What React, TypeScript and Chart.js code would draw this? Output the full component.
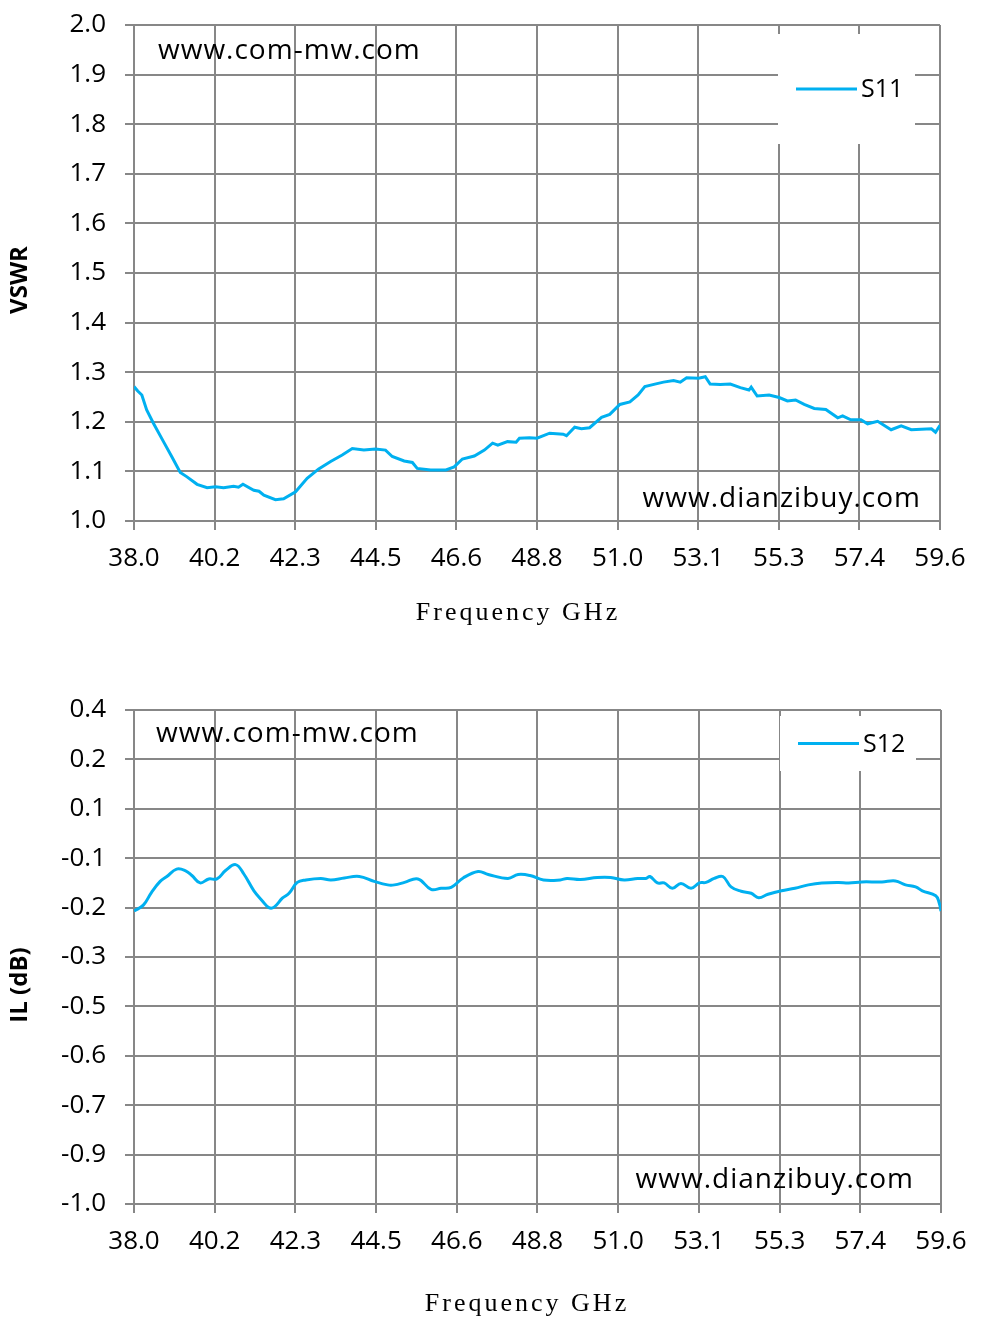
import { useEffect, useRef } from 'react';
import { Chart, registerables } from 'chart.js';

Chart.register(...registerables);

// x axis (GHz)
const X_MIN = 38.0;
const X_MAX = 59.6;
const X_STEP = 2.16;
const X_TICK_LABELS = ['38.0', '40.2', '42.3', '44.5', '46.6', '48.8', '51.0', '53.1', '55.3', '57.4', '59.6'];

// top chart: VSWR
const VSWR_TICK_LABELS = ['1.0', '1.1', '1.2', '1.3', '1.4', '1.5', '1.6', '1.7', '1.8', '1.9', '2.0'];
const S11_FREQ = [
  38.0, 38.1, 38.21, 38.34, 38.52, 38.79, 39.01, 39.24, 39.42, 39.69, 39.96, 40.18, 40.4, 40.67, 40.8,
  40.92, 41.21, 41.35, 41.48, 41.79, 42.01, 42.33, 42.64, 42.95, 43.27, 43.58, 43.85, 44.16, 44.47,
  44.74, 44.92, 45.24, 45.46, 45.59, 45.95, 46.36, 46.58, 46.8, 47.12, 47.39, 47.61, 47.75, 48.01,
  48.24, 48.33, 48.6, 48.8, 49.14, 49.5, 49.59, 49.81, 49.99, 50.21, 50.53, 50.75, 51.02, 51.29,
  51.51, 51.69, 51.96, 52.19, 52.46, 52.64, 52.81, 53.13, 53.31, 53.44, 53.71, 53.98, 54.25, 54.48,
  54.54, 54.7, 55.02, 55.29, 55.51, 55.73, 55.96, 56.23, 56.54, 56.86, 56.99, 57.21, 57.48, 57.66,
  57.93, 58.29, 58.56, 58.83, 59.1, 59.37, 59.48, 59.6,
];
const S11_VSWR = [
  1.271, 1.262, 1.254, 1.224, 1.197, 1.16, 1.13, 1.098, 1.089, 1.074, 1.067, 1.069, 1.067, 1.07, 1.068,
  1.074, 1.062, 1.06, 1.052, 1.043, 1.045, 1.059, 1.086, 1.105, 1.12, 1.133, 1.146, 1.143, 1.145,
  1.143, 1.13, 1.121, 1.118, 1.106, 1.103, 1.103, 1.109, 1.125, 1.131, 1.143, 1.157, 1.153, 1.16,
  1.159, 1.167, 1.168, 1.167, 1.177, 1.175, 1.172, 1.189, 1.186, 1.188, 1.209, 1.215, 1.235, 1.24,
  1.254, 1.271, 1.276, 1.28, 1.283, 1.28, 1.289, 1.288, 1.291, 1.276, 1.275, 1.276, 1.269, 1.264,
  1.27, 1.252, 1.254, 1.249, 1.242, 1.244, 1.235, 1.227, 1.225, 1.208, 1.212, 1.204, 1.204, 1.196,
  1.201, 1.184, 1.192, 1.184, 1.185, 1.186, 1.179, 1.193,
];

// bottom chart: insertion loss; the axis labels are not evenly spaced in value
const IL_TICK_LABELS = [-1.0, -0.9, -0.7, -0.6, -0.5, -0.3, -0.2, -0.1, 0.1, 0.2, 0.4];
const S12_FREQ = [
  38.0, 38.25, 38.47, 38.7, 38.88, 39.14, 39.37, 39.55, 39.77, 40.0, 40.22, 40.45, 40.72, 40.94, 41.21,
  41.43, 41.61, 41.75, 41.97, 42.15, 42.37, 42.6, 43.0, 43.27, 43.63, 44.03, 44.43, 44.79, 44.97,
  45.24, 45.6, 45.95, 46.22, 46.49, 46.81, 47.21, 47.48, 48.01, 48.28, 48.6, 48.96, 49.41, 49.59,
  49.95, 50.4, 50.76, 51.12, 51.48, 51.7, 51.81, 52.01, 52.19, 52.41, 52.64, 52.91, 53.13, 53.31,
  53.53, 53.76, 53.98, 54.25, 54.52, 54.72, 54.97, 55.33, 55.69, 56.05, 56.41, 56.86, 57.13, 57.48,
  58.02, 58.38, 58.65, 58.92, 59.1, 59.46, 59.55, 59.6,
];
const S12_IL = [
  -0.207, -0.195, -0.169, -0.147, -0.137, -0.122, -0.125, -0.135, -0.15, -0.142, -0.142, -0.125, -0.113,
  -0.132, -0.166, -0.186, -0.2, -0.199, -0.181, -0.171, -0.149, -0.144, -0.141, -0.144, -0.14, -0.137,
  -0.147, -0.154, -0.154, -0.149, -0.142, -0.163, -0.161, -0.159, -0.14, -0.127, -0.133, -0.141,
  -0.133, -0.135, -0.144, -0.144, -0.141, -0.143, -0.139, -0.139, -0.144, -0.141, -0.141, -0.137,
  -0.15, -0.15, -0.161, -0.151, -0.161, -0.15, -0.149, -0.141, -0.137, -0.158, -0.167, -0.171, -0.18,
  -0.173, -0.166, -0.161, -0.154, -0.15, -0.149, -0.15, -0.148, -0.148, -0.146, -0.154, -0.158,
  -0.166, -0.176, -0.19, -0.207,
];

const LINE_COLOR = '#00B0F0';
const GRID_COLOR = '#878787';
const TICK_FONT = { family: "'Open Sans', sans-serif", size: 26 };

// map a dB value onto the label slot axis (0..10)
function ilToSlot(v: number) {
  for (let i = 0; i < IL_TICK_LABELS.length - 1; i++) {
    const a = IL_TICK_LABELS[i];
    const b = IL_TICK_LABELS[i + 1];
    if (v >= a && v <= b) return i + (v - a) / (b - a);
  }
  return v < IL_TICK_LABELS[0] ? 0 : IL_TICK_LABELS.length - 1;
}

const overlayPlugin = {
  id: 'overlay',
  afterDraw(chart: any, _args: any, o: any) {
    const { ctx, chartArea: a } = chart;
    ctx.save();

    // legend box (white, sits over the grid)
    const lx = a.right - o.legend.dxRight;
    const ly = a.top + o.legend.dyTop;
    ctx.fillStyle = '#fff';
    ctx.fillRect(lx, ly, o.legend.w, o.legend.h);
    const my = ly + o.legend.h / 2;
    ctx.strokeStyle = LINE_COLOR;
    ctx.lineWidth = 3;
    ctx.beginPath();
    ctx.moveTo(lx + 18, my);
    ctx.lineTo(lx + 79, my);
    ctx.stroke();
    ctx.fillStyle = '#000';
    ctx.font = "25px 'Open Sans', sans-serif";
    ctx.textAlign = 'left';
    ctx.textBaseline = 'middle';
    ctx.fillText(o.legend.text, lx + 83, my + 1);

    // watermarks
    ctx.font = "28px 'Open Sans', sans-serif";
    (ctx as any).letterSpacing = '1px';
    ctx.textAlign = 'left';
    ctx.fillText('www.com-mw.com', a.left + o.wm1.dx, a.top + o.wm1.dy);
    ctx.textAlign = 'right';
    ctx.fillText('www.dianzibuy.com', a.right - o.wm2.dx, a.bottom - o.wm2.dy);

    // x axis title
    ctx.font = "26px 'Liberation Serif', serif";
    (ctx as any).letterSpacing = '3px';
    ctx.textAlign = 'center';
    ctx.fillText('Frequency GHz', o.xTitle.x, a.bottom + o.xTitle.dy);

    // y axis title
    (ctx as any).letterSpacing = '0px';
    ctx.font = "bold 24px 'Open Sans', sans-serif";
    ctx.translate(o.yTitle.x, (a.top + a.bottom) / 2 + o.yTitle.dy);
    ctx.rotate(-Math.PI / 2);
    ctx.fillText(o.yTitle.text, 0, 0);
    ctx.restore();
  },
};

function xScale(height: number) {
  return {
    type: 'linear' as const,
    min: X_MIN,
    max: X_MAX,
    afterFit: (s: any) => {
      s.height = height;
      s.paddingLeft = 0;
      s.paddingRight = 0;
    },
    ticks: {
      stepSize: X_STEP,
      color: '#000',
      font: TICK_FONT,
      padding: 13,
      maxRotation: 0,
      autoSkip: false,
      callback: (_v: any, i: number) => X_TICK_LABELS[i],
    },
    grid: { color: GRID_COLOR, lineWidth: 2, tickLength: 9, tickColor: GRID_COLOR },
    border: { color: GRID_COLOR, width: 2 },
  };
}

function yScaleBase() {
  return {
    type: 'linear' as const,
    afterFit: (s: any) => {
      s.width = 134;
      s.paddingTop = 0;
      s.paddingBottom = 0;
    },
    grid: { color: GRID_COLOR, lineWidth: 2, tickLength: 9, tickColor: GRID_COLOR },
    border: { color: GRID_COLOR, width: 2 },
  };
}

function VswrChart() {
  const canvasRef = useRef<HTMLCanvasElement>(null);
  const chartRef = useRef<Chart | null>(null);

  useEffect(() => {
    if (!canvasRef.current) return;
    if (chartRef.current) chartRef.current.destroy();

    chartRef.current = new Chart(canvasRef.current, {
      type: 'line',
      data: {
        datasets: [{
          label: 'S11',
          data: S11_FREQ.map((f, i) => ({ x: f, y: S11_VSWR[i] })),
          borderColor: LINE_COLOR,
          borderWidth: 3,
          pointRadius: 0,
          tension: 0,
        }],
      },
      options: {
        animation: false,
        responsive: true,
        maintainAspectRatio: false,
        layout: { padding: { left: 0, right: 48, top: 25, bottom: 0 } },
        plugins: {
          legend: { display: false },
          tooltip: { enabled: false },
          overlay: {
            legend: { text: 'S11', dxRight: 162, dyTop: 9, w: 137, h: 110 },
            wm1: { dx: 24, dy: 26 },
            wm2: { dx: 19, dy: 22 },
            xTitle: { x: 518, dy: 92 },
            yTitle: { x: 20, dy: 7, text: 'VSWR' },
          },
        } as any,
        scales: {
          x: xScale(129),
          y: {
            ...yScaleBase(),
            min: 1,
            max: 2,
            ticks: {
              stepSize: 0.1,
              color: '#000',
              font: TICK_FONT,
              padding: 19,
              callback: (_v: any, i: number) => VSWR_TICK_LABELS[i],
            },
          },
        },
      },
      plugins: [overlayPlugin],
    });

    return () => {
      if (chartRef.current) {
        chartRef.current.destroy();
        chartRef.current = null;
      }
    };
  }, []);

  return (
    <div style={{ position: 'absolute', left: 0, top: 0, width: 988, height: 650 }}>
      <canvas ref={canvasRef}></canvas>
    </div>
  );
}

function IlChart() {
  const canvasRef = useRef<HTMLCanvasElement>(null);
  const chartRef = useRef<Chart | null>(null);

  useEffect(() => {
    if (!canvasRef.current) return;
    if (chartRef.current) chartRef.current.destroy();

    chartRef.current = new Chart(canvasRef.current, {
      type: 'line',
      data: {
        datasets: [{
          label: 'S12',
          data: S12_FREQ.map((f, i) => ({ x: f, y: ilToSlot(S12_IL[i]) })),
          borderColor: LINE_COLOR,
          borderWidth: 3,
          pointRadius: 0,
          tension: 0.4,
        }],
      },
      options: {
        animation: false,
        responsive: true,
        maintainAspectRatio: false,
        layout: { padding: { left: 0, right: 47, top: 60, bottom: 0 } },
        plugins: {
          legend: { display: false },
          tooltip: { enabled: false },
          overlay: {
            legend: { text: 'S12', dxRight: 161, dyTop: 6, w: 136, h: 55 },
            wm1: { dx: 22, dy: 24 },
            wm2: { dx: 27, dy: 24 },
            xTitle: { x: 527, dy: 100 },
            yTitle: { x: 20, dy: 28, text: 'IL (dB)' },
          },
        } as any,
        scales: {
          x: xScale(120),
          y: {
            ...yScaleBase(),
            min: 0,
            max: IL_TICK_LABELS.length - 1,
            ticks: {
              stepSize: 1,
              color: '#000',
              font: TICK_FONT,
              padding: 19,
              callback: (_v: any, i: number) => IL_TICK_LABELS[i].toFixed(1),
            },
          },
        },
      },
      plugins: [overlayPlugin],
    });

    return () => {
      if (chartRef.current) {
        chartRef.current.destroy();
        chartRef.current = null;
      }
    };
  }, []);

  return (
    <div style={{ position: 'absolute', left: 0, top: 650, width: 988, height: 674 }}>
      <canvas ref={canvasRef}></canvas>
    </div>
  );
}

export default function App() {
  return (
    <div style={{ position: 'absolute', left: 0, top: 0, width: 988, height: 1324, background: '#fff' }}>
      <VswrChart />
      <IlChart />
    </div>
  );
}
